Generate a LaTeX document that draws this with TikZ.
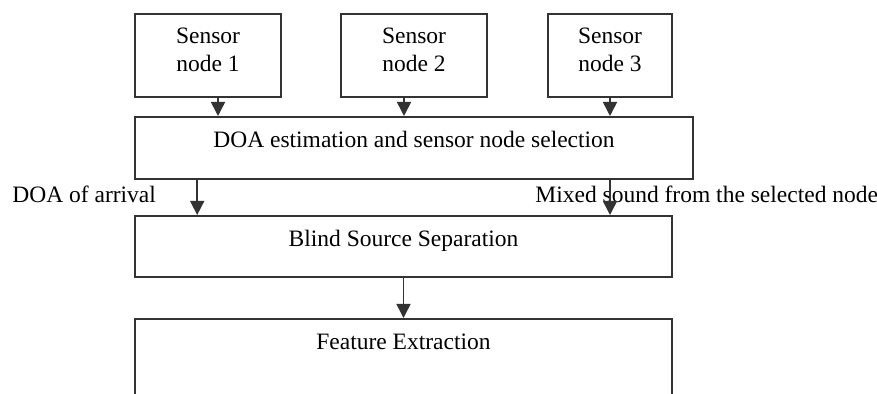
\documentclass[tikz,border=0pt]{standalone}
\usepackage{fontspec}
\setmainfont{Liberation Serif}
\usetikzlibrary{arrows.meta}

\begin{document}
\begin{tikzpicture}[
        x=0.5pt, y=-0.5pt,
        every node/.style={font=\fontsize{11.75}{14}\selectfont},
        box/.style={rectangle, draw=black!80, line width=0.8pt, inner xsep=0pt, inner ysep=0pt, align=center, anchor=north},
        block/.style={box, text height=15.5pt},
        sensor/.style={box, minimum width=73pt, text height=29pt, text depth=12.5pt},
        lbl/.style={inner sep=0pt, anchor=base west},
        arrow/.style={-{Triangle[width=7pt,length=7pt]}, line width=0.8pt, draw=black!80}
    ]
        \useasboundingbox (0,0) rectangle (877,394);

        % Sensor nodes
        \node[sensor] (s1) at (208,13) {Sensor\\node 1};
        \node[sensor] (s2) at (414,13) {Sensor\\node 2};
        \node[sensor, minimum width=62pt] (s3) at (610,13) {Sensor\\node 3};

        % Processing chain
        \node[block, minimum width=279pt, text depth=15.5pt] (doa) at (414,116) {DOA estimation and sensor node selection};
        \node[block, minimum width=268.5pt, text depth=15pt] (bss) at (403.5,215) {Blind Source Separation};
        \node[block, minimum width=268.5pt, text depth=40pt] (fe) at (403.5,318) {Feature Extraction};

        % Labels
        \node[lbl] (doalbl) at (12,203) {DOA of arrival};
        \node[lbl] (mixlbl) at (535,203) {Mixed sound from the selected node};

        % Arrows
        \draw[arrow] ([xshift=5pt]s1.south) -- ([xshift=5pt]s1.south |- doa.north);
        \draw[arrow] ([xshift=-5pt]s2.south) -- ([xshift=-5pt]s2.south |- doa.north);
        \draw[arrow] (s3.south) -- (s3.south |- doa.north);
        \draw[arrow] ([xshift=31.5pt]doa.south west) -- ([xshift=31.5pt]doa.south west |- bss.north);
        \draw[arrow] (s3.south |- doa.south) -- (s3.south |- bss.north);
        \draw[arrow] (bss) -- (fe);

    \end{tikzpicture}
\end{document}
